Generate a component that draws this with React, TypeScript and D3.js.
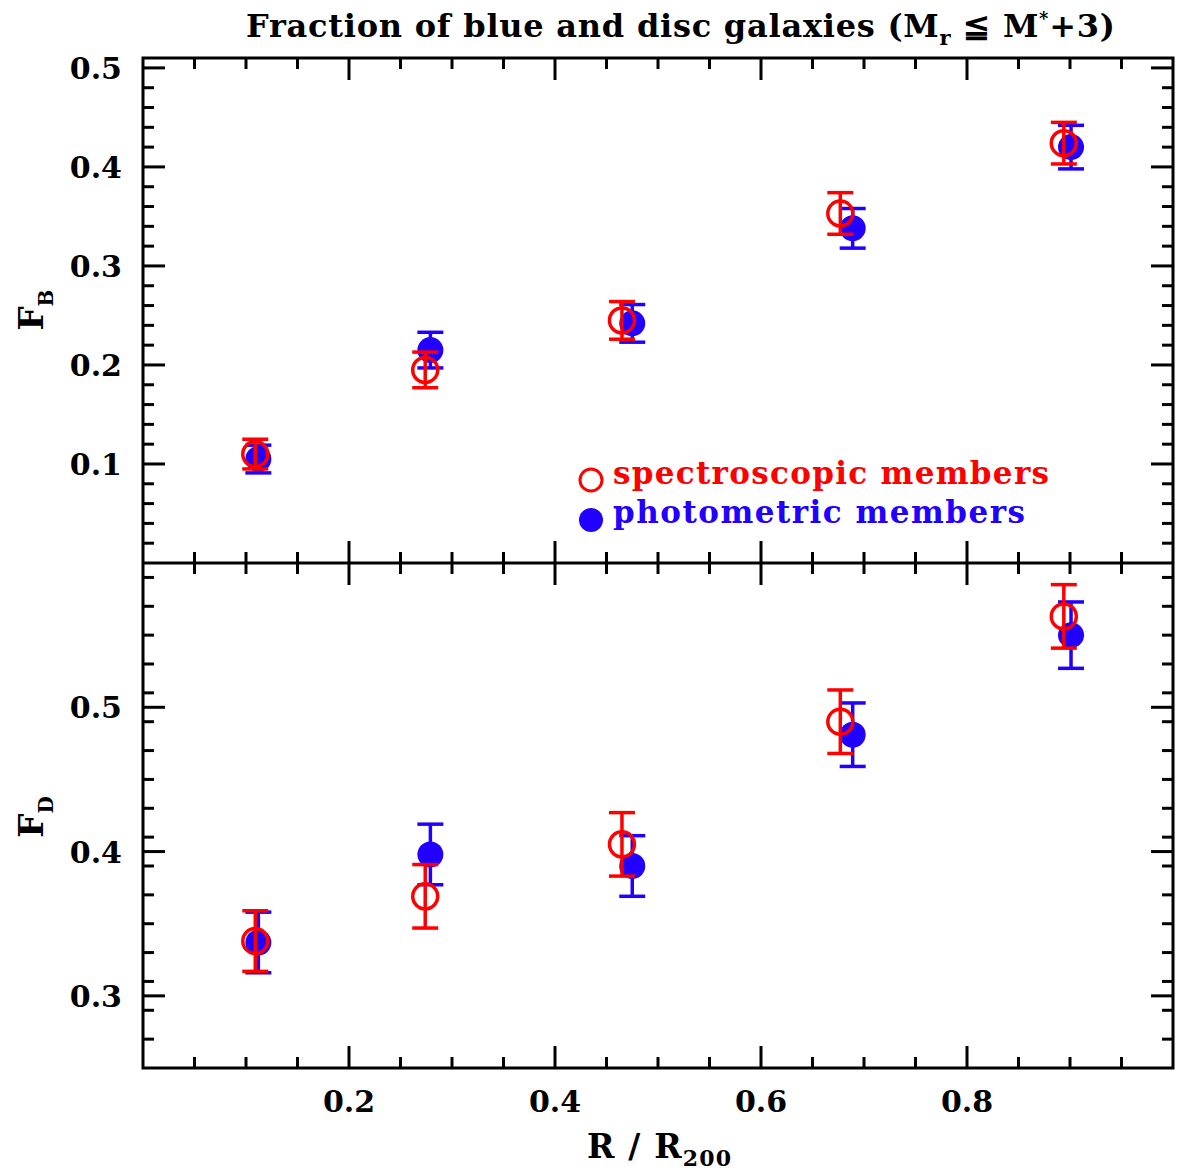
import React from "react";
import * as d3 from "d3";

const W = 1186;
const H = 1171;

// radius bins (R / R200)
const rSpec = [0.109, 0.274, 0.465, 0.677, 0.894];
const rPhot = [0.112, 0.279, 0.475, 0.689, 0.901];

// fraction of blue galaxies
const fbSpec = [0.110, 0.195, 0.245, 0.353, 0.424];
const fbSpecErr = [0.015, 0.018, 0.019, 0.021, 0.021];
const fbPhot = [0.105, 0.215, 0.242, 0.338, 0.420];
const fbPhotErr = [0.014, 0.018, 0.019, 0.020, 0.022];

// fraction of disc galaxies
const fdSpec = [0.338, 0.369, 0.405, 0.490, 0.563];
const fdSpecErr = [0.021, 0.022, 0.022, 0.022, 0.022];
const fdPhot = [0.337, 0.398, 0.390, 0.481, 0.550];
const fdPhotErr = [0.021, 0.021, 0.021, 0.022, 0.023];

const xTickValues = [0.2, 0.4, 0.6, 0.8];
const xTickLabels = ["0.2", "0.4", "0.6", "0.8"];
const topTickValues = [0.1, 0.2, 0.3, 0.4, 0.5];
const topTickLabels = ["0.1", "0.2", "0.3", "0.4", "0.5"];
const botTickValues = [0.3, 0.4, 0.5];
const botTickLabels = ["0.3", "0.4", "0.5"];

const RED = "#ff0000";
const BLUE = "#2200ff";
const FONT = "'DejaVu Serif', serif";

const L = 143, R = 1173, T = 58, M = 563, B = 1068;

const x = d3.scaleLinear().domain([0, 1]).range([L, R]);
const yTop = d3.scaleLinear().domain([0, 0.51]).range([M, T]);
const yBot = d3.scaleLinear().domain([0.25, 0.6]).range([B, M]);

const MAJ = 22;
const MIN = 11;
const SW = 3;

function Points({ xs, ys, es, y, color, open }: any) {
  return (
    <g>
      {xs.map((xv: number, i: number) => {
        const cx = x(xv);
        const cy = y(ys[i]);
        const y1 = y(ys[i] + es[i]);
        const y2 = y(ys[i] - es[i]);
        return (
          <g key={i}>
            <line x1={cx} x2={cx} y1={y1} y2={y2} stroke={color} strokeWidth={3.5} />
            <line x1={cx - 13} x2={cx + 13} y1={y1} y2={y1} stroke={color} strokeWidth={3.5} />
            <line x1={cx - 13} x2={cx + 13} y1={y2} y2={y2} stroke={color} strokeWidth={3.5} />
            {open ? (
              <circle cx={cx} cy={cy} r={12.5} fill="none" stroke={color} strokeWidth={3.5} />
            ) : (
              <circle cx={cx} cy={cy} r={13} fill={color} />
            )}
          </g>
        );
      })}
    </g>
  );
}

function Frame({ y, y0, y1, yTicks, minorStep, top, bottom }: any) {
  const xMinor = d3.range(1, 20).map((i) => i * 0.05).filter((v) => Math.abs(v * 5 - Math.round(v * 5)) > 1e-6);
  const nMin = Math.round((y1 - y0) / minorStep);
  const yMinor = d3
    .range(1, nMin + 1)
    .map((i) => y0 + i * minorStep)
    .filter((v) => v < y1 + 1e-9 && !yTicks.some((t: number) => Math.abs(t - v) < 1e-6));
  const yt = top;
  const yb = bottom;
  return (
    <g stroke="#000" strokeWidth={SW}>
      {xTickValues.map((v) => (
        <g key={"xM" + v}>
          <line x1={x(v)} x2={x(v)} y1={yt} y2={yt + MAJ} />
          <line x1={x(v)} x2={x(v)} y1={yb} y2={yb - MAJ} />
        </g>
      ))}
      {xMinor.map((v) => (
        <g key={"xm" + v}>
          <line x1={x(v)} x2={x(v)} y1={yt} y2={yt + MIN} />
          <line x1={x(v)} x2={x(v)} y1={yb} y2={yb - MIN} />
        </g>
      ))}
      {yTicks.map((v: number) => (
        <g key={"yM" + v}>
          <line x1={L} x2={L + MAJ} y1={y(v)} y2={y(v)} />
          <line x1={R} x2={R - MAJ} y1={y(v)} y2={y(v)} />
        </g>
      ))}
      {yMinor.map((v: number) => (
        <g key={"ym" + v}>
          <line x1={L} x2={L + MIN} y1={y(v)} y2={y(v)} />
          <line x1={R} x2={R - MIN} y1={y(v)} y2={y(v)} />
        </g>
      ))}
    </g>
  );
}

export default function App() {
  return (
    <svg
      width={W}
      height={H}
      viewBox={`0 0 ${W} ${H}`}
      style={{ position: "absolute", left: 0, top: 0, background: "#fff" }}
      fontFamily={FONT}
    >
      <rect x={0} y={0} width={W} height={H} fill="#fff" />
      {/* Title */}
      <text x={246} y={37} fontSize={32} fontWeight="bold" textLength={869} lengthAdjust="spacing">
        Fraction of blue and disc galaxies (M
        <tspan fontSize={21} dy={8}>r</tspan>
        <tspan dy={-8}> ≦ M</tspan>
        <tspan fontSize={18} dy={-12}>*</tspan>
        <tspan dy={12}>+3)</tspan>
      </text>

      <Frame y={yTop} y0={0} y1={0.51} yTicks={topTickValues} minorStep={0.02} top={T} bottom={M} />
      <Frame y={yBot} y0={0.25} y1={0.6} yTicks={botTickValues} minorStep={0.02} top={M} bottom={B} />

      <rect x={L} y={T} width={R - L} height={B - T} fill="none" stroke="#000" strokeWidth={SW} />
      <line x1={L} x2={R} y1={M} y2={M} stroke="#000" strokeWidth={SW} />

      {/* y tick labels */}
      <g fontSize={30} fontWeight="bold" textAnchor="end">
        {topTickValues.map((v, i) => (
          <text key={"tl" + i} x={122} y={yTop(v) + 11}>{topTickLabels[i]}</text>
        ))}
        {botTickValues.map((v, i) => (
          <text key={"bl" + i} x={122} y={yBot(v) + 11}>{botTickLabels[i]}</text>
        ))}
      </g>
      {/* x tick labels */}
      <g fontSize={30} fontWeight="bold" textAnchor="middle">
        {xTickValues.map((v, i) => (
          <text key={"xl" + i} x={x(v)} y={1112}>{xTickLabels[i]}</text>
        ))}
      </g>

      {/* axis labels */}
      <text x={587} y={1158} fontSize={33} fontWeight="bold" textLength={144} lengthAdjust="spacing">
        R / R<tspan fontSize={22} dy={8}>200</tspan>
      </text>
      <text transform="translate(43,310) rotate(-90)" fontSize={34} fontWeight="bold" textAnchor="middle">
        F<tspan fontSize={20} dy={10}>B</tspan>
      </text>
      <text transform="translate(43,817) rotate(-90)" fontSize={34} fontWeight="bold" textAnchor="middle">
        F<tspan fontSize={20} dy={10}>D</tspan>
      </text>

      {/* data: top panel */}
      <Points xs={rPhot} ys={fbPhot} es={fbPhotErr} y={yTop} color={BLUE} open={false} />
      <Points xs={rSpec} ys={fbSpec} es={fbSpecErr} y={yTop} color={RED} open={true} />
      {/* data: bottom panel */}
      <Points xs={rPhot} ys={fdPhot} es={fdPhotErr} y={yBot} color={BLUE} open={false} />
      <Points xs={rSpec} ys={fdSpec} es={fdSpecErr} y={yBot} color={RED} open={true} />

      {/* legend */}
      <circle cx={591} cy={480} r={11} fill="none" stroke={RED} strokeWidth={3} />
      <circle cx={591} cy={520} r={12} fill={BLUE} />
      <text x={613} y={484} fontSize={31} fontWeight="bold" fill={RED} textLength={436} lengthAdjust="spacing">
        spectroscopic members
      </text>
      <text x={613} y={523} fontSize={31} fontWeight="bold" fill={BLUE} textLength={412} lengthAdjust="spacing">
        photometric members
      </text>
    </svg>
  );
}
